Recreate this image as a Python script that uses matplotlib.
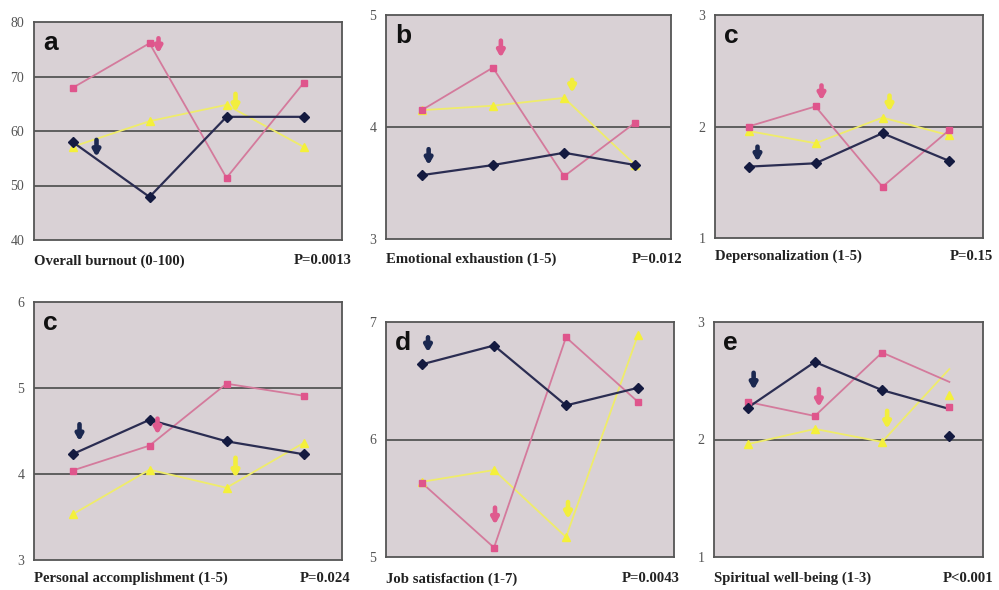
import matplotlib
matplotlib.use("Agg")
import matplotlib.pyplot as plt
from matplotlib import transforms

W, H = 999, 590

# ---------------- data ----------------
x_idx = [0, 1, 2, 3]

# a: Overall burnout (0-100)
a_navy = [58.0, 47.9, 62.6, 62.6]
a_pink = [67.9, 76.1, 51.4, 68.8]
a_yellow = [57.1, 61.8, 64.8, 57.1]

# b: Emotional exhaustion (1-5)
b_navy = [3.57, 3.66, 3.77, 3.66]
b_pink = [4.15, 4.53, 3.56, 4.04]
b_yellow = [4.15, 4.19, 4.26, 3.66]

# c: Depersonalization (1-5)
c_navy = [1.64, 1.67, 1.94, 1.69]
c_pink = [2.00, 2.18, 1.46, 1.97]
c_yellow = [1.96, 1.85, 2.08, 1.92]

# c (2nd): Personal accomplishment (1-5)
p_navy = [4.23, 4.63, 4.38, 4.23]
p_pink = [4.04, 4.33, 5.05, 4.91]
p_yellow = [3.53, 4.05, 3.84, 4.36]

# d: Job satisfaction (1-7)
d_navy = [6.64, 6.80, 6.29, 6.44]
d_pink = [5.63, 5.08, 6.87, 6.32]
d_yellow = [5.64, 5.74, 5.17, 6.89]

# e: Spiritual well-being (1-3)  (line ends and markers differ at the last point)
e_navy = [2.27, 2.66, 2.42, 2.26]
e_pink = [2.32, 2.20, 2.74, 2.49]
e_yellow = [1.96, 2.09, 1.98, 2.60]
e_navy_markers = [2.27, 2.66, 2.42, 2.03]
e_pink_markers = [2.32, 2.20, 2.74, 2.28]
e_yellow_markers = [1.96, 2.09, 1.98, 2.38]

panel_letters = ["a", "b", "c", "c", "d", "e"]
panel_titles = ["Overall burnout (0-100)", "Emotional exhaustion (1-5)",
                "Depersonalization (1-5)", "Personal accomplishment (1-5)",
                "Job satisfaction (1-7)", "Spiritual well-being (1-3)"]
panel_pvalues = ["P=0.0013", "P=0.012", "P=0.15", "P=0.024", "P=0.0043", "P<0.001"]
panel_yticks = [[40, 50, 60, 70, 80], [3, 4, 5], [1, 2, 3], [3, 4, 5, 6], [5, 6, 7], [1, 2, 3]]

lines_data = [
    {"navy": a_navy, "pink": a_pink, "yellow": a_yellow},
    {"navy": b_navy, "pink": b_pink, "yellow": b_yellow},
    {"navy": c_navy, "pink": c_pink, "yellow": c_yellow},
    {"navy": p_navy, "pink": p_pink, "yellow": p_yellow},
    {"navy": d_navy, "pink": d_pink, "yellow": d_yellow},
    {"navy": e_navy, "pink": e_pink, "yellow": e_yellow},
]
markers_data = [dict(d) for d in lines_data]
markers_data[5] = {"navy": e_navy_markers, "pink": e_pink_markers, "yellow": e_yellow_markers}

# ---------------- layout / styles ----------------
# axes boxes in pixels (left, top, right, bottom)
boxes = [(34, 22, 342, 240), (386, 15, 671, 239), (715, 15, 983, 238),
         (34, 302, 342, 560), (386, 322, 674, 557), (714, 322, 983, 557)]
label_y = [261, 259, 256, 578, 579, 578]
pval_right = [352, 682, 993, 350, 680, 993]

# arrows: (series, index, dx px, tip dy px (up +), length px)
arrows = [
    [("navy", 0, 24, -15, 17), ("pink", 1, 9, -10, 15), ("yellow", 2, 9, -7, 18)],
    [("navy", 0, 7, 10, 16), ("pink", 1, 8, 10, 17), ("yellow", 2, 8, 5, 13)],
    [("navy", 0, 9, 5, 15), ("pink", 1, 6, 6, 15), ("yellow", 2, 7, 6, 16)],
    [("navy", 0, 7, 13, 17), ("pink", 1, 8, 11, 16), ("yellow", 2, 9, 10, 20)],
    [("navy", 0, 6, 12, 15), ("pink", 1, 1, 23, 17), ("yellow", 2, 2, 18, 17)],
    [("navy", 0, 6, 18, 17), ("pink", 1, 4, 9, 18), ("yellow", 2, 5, 13, 18)],
]

styles = {
    "yellow": dict(lc="#efec6a", mc="#f4f03a", marker="^", ms=6.0, lw=1.3, ac="#f2ee3c"),
    "pink": dict(lc="#d47a9c", mc="#df558c", marker="s", ms=4.8, lw=1.3, ac="#df5a8e"),
    "navy": dict(lc="#2b2d52", mc="#141a40", marker="D", ms=4.6, lw=1.6, ac="#1b2850"),
}
order = ["yellow", "pink", "navy"]

serif = ["Liberation Serif", "DejaVu Serif"]
sans = ["Liberation Sans", "DejaVu Sans"]
face = "#d9d1d5"
edge = "#555555"

fig = plt.figure(figsize=(W / 100, H / 100), dpi=100)
fig.patch.set_facecolor("white")

for k in range(6):
    l, t, r, b = boxes[k]
    ax = fig.add_axes([l / W, 1 - b / H, (r - l) / W, (b - t) / H])
    ax.set_facecolor(face)
    yt = panel_yticks[k]
    ax.set_ylim(yt[0], yt[-1])
    ax.set_xlim(-0.5, 3.5)
    ax.set_yticks(yt)
    ax.set_yticklabels([str(v) for v in yt], family=serif, fontsize=10, color="#555555")
    ax.set_xticks([])
    ax.tick_params(axis="y", length=0, pad=7)
    for s in ax.spines.values():
        s.set_color(edge)
        s.set_linewidth(1.3)
    for v in yt[1:-1]:
        ax.axhline(v, color=edge, lw=1.3, zorder=1)

    for name in order:
        st = styles[name]
        ax.plot(x_idx, lines_data[k][name], color=st["lc"], lw=st["lw"], zorder=2)
        ax.plot(x_idx, markers_data[k][name], ls="none", marker=st["marker"],
                ms=st["ms"], color=st["mc"], mec=st["mc"], zorder=3)

    for (name, i, dx, dy, length) in arrows[k]:
        tr = transforms.offset_copy(ax.transData, fig=fig, x=dx, y=dy, units="dots")
        ax.annotate("", xy=(x_idx[i], lines_data[k][name][i]), xycoords=tr,
                    xytext=(0, length), textcoords="offset pixels",
                    arrowprops=dict(arrowstyle="-|>,head_width=0.2,head_length=0.35",
                                    color=styles[name]["ac"], lw=3.3,
                                    mutation_scale=10, shrinkA=0, shrinkB=0),
                    zorder=4, annotation_clip=False)

    ax.text(9 / (r - l), 1 - 28 / (b - t), panel_letters[k], transform=ax.transAxes,
            family=sans, fontweight="bold", fontsize=19, color="#111111",
            ha="left", va="baseline", zorder=5)

    fig.text(l / W, 1 - label_y[k] / H, panel_titles[k], family=serif,
             fontweight="bold", fontsize=10.6, color="#222222", ha="left", va="center")
    fig.text(pval_right[k] / W, 1 - label_y[k] / H, panel_pvalues[k], family=serif,
             fontweight="bold", fontsize=10.6, color="#222222", ha="right", va="center")

fig.savefig("out.png", dpi=100, facecolor="white")
